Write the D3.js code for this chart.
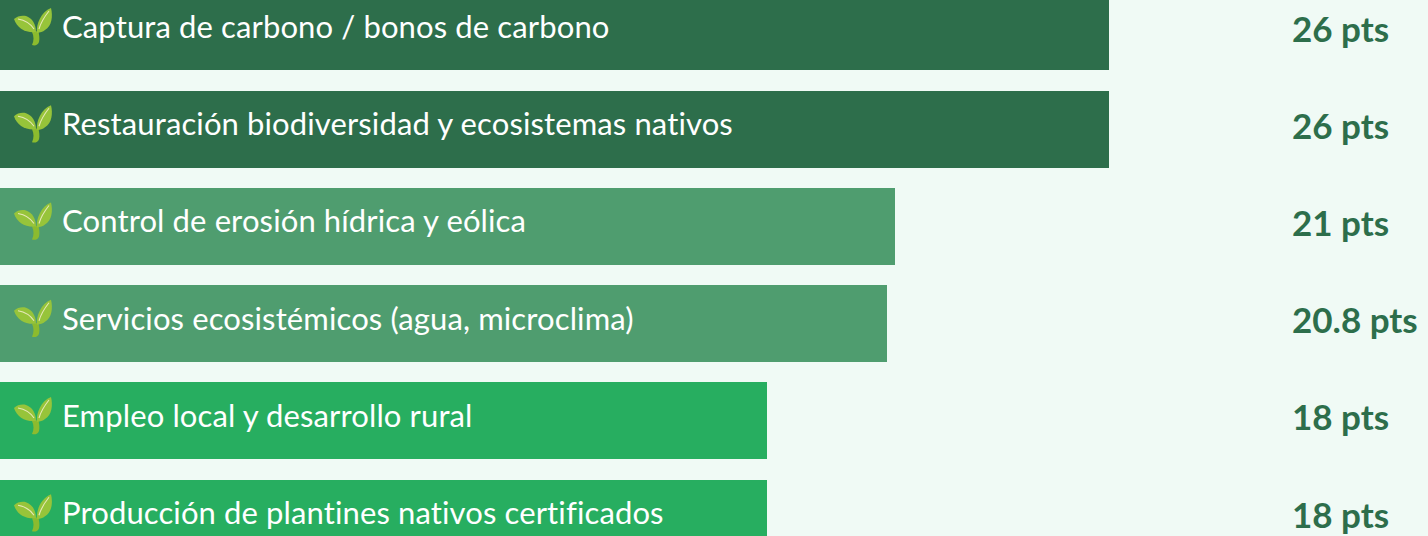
<!DOCTYPE html>
<html><head><meta charset="utf-8">
<script src="https://cdnjs.cloudflare.com/ajax/libs/d3/7.8.5/d3.min.js"></script>
<style>html,body{margin:0;padding:0;background:#f0faf5;overflow:hidden}svg{display:block}text{font-family:Lato,"Open Sans",sans-serif;font-variant-ligatures:none}</style>
</head><body><svg id="c" width="1428" height="536"></svg>
<script>
const categories = ["Captura de carbono / bonos de carbono","Restauración biodiversidad y ecosistemas nativos","Control de erosión hídrica y eólica","Servicios ecosistémicos (agua, microclima)","Empleo local y desarrollo rural","Producción de plantines nativos certificados"];
const values = [26,26,21,20.8,18,18];
const valueLabels = ["26 pts","26 pts","21 pts","20.8 pts","18 pts","18 pts"];
const barColors = ["#2d6e4b","#2d6e4b","#4f9d6f","#4f9d6f","#27ae60","#27ae60"];
const svg=d3.select("#c");
const x=d3.scaleLinear().domain([0,26]).range([0,1108.6]);
const y=d3.scaleBand().domain(categories).range([-6.6,556.65]).paddingInner(0.2082);
const defs=svg.append("defs");
const g=defs.append("g").attr("id","sprout");
g.append("path").attr("d","M18 24 C20 28 20 33 18 37 C21 38 24 37 25 34 C26 30 25 27 24.5 23 Z").attr("fill","#8cbb2e");
g.append("path").attr("d","M22 24 C11 25 3 20 0 11 C3 8 8 7 12 8 C18 10 22 16 22 24 Z").attr("fill","#97c43a");
g.append("path").attr("d","M23 25 C22 16 27 4 37 0 C39 8 38 18 31 22 C29 24 26 24 23 25 Z").attr("fill","#97c43a");
g.append("path").attr("d","M4 11 C10 12 16 15 20 21").attr("fill","none").attr("stroke","#e6e8b8").attr("stroke-width",1.1);
g.append("path").attr("d","M35 3 C31 8 27 14 25 21").attr("fill","none").attr("stroke","#e6e8b8").attr("stroke-width",1.1);
const rows=svg.selectAll("g.row").data(categories.map((c,i)=>({c,v:values[i],l:valueLabels[i],col:barColors[i]}))).join("g").attr("class","row");
rows.append("rect").attr("shape-rendering","crispEdges").attr("x",0).attr("y",d=>y(d.c)).attr("width",d=>x(d.v)).attr("height",y.bandwidth()).attr("fill",d=>d.col);
rows.append("use").attr("href","#sprout").attr("x",14).attr("y",d=>y(d.c)+14.6);
rows.append("text").attr("x",62).attr("y",d=>y(d.c)+y.bandwidth()/2+6).attr("fill","#fff").attr("font-size",31).attr("letter-spacing",0.12).text(d=>d.c);
rows.append("text").attr("x",1292).attr("y",d=>y(d.c)+y.bandwidth()/2+9.6).attr("fill","#2d6e4b").attr("font-size",35).attr("font-weight",700).text(d=>d.l);
</script></body></html>
